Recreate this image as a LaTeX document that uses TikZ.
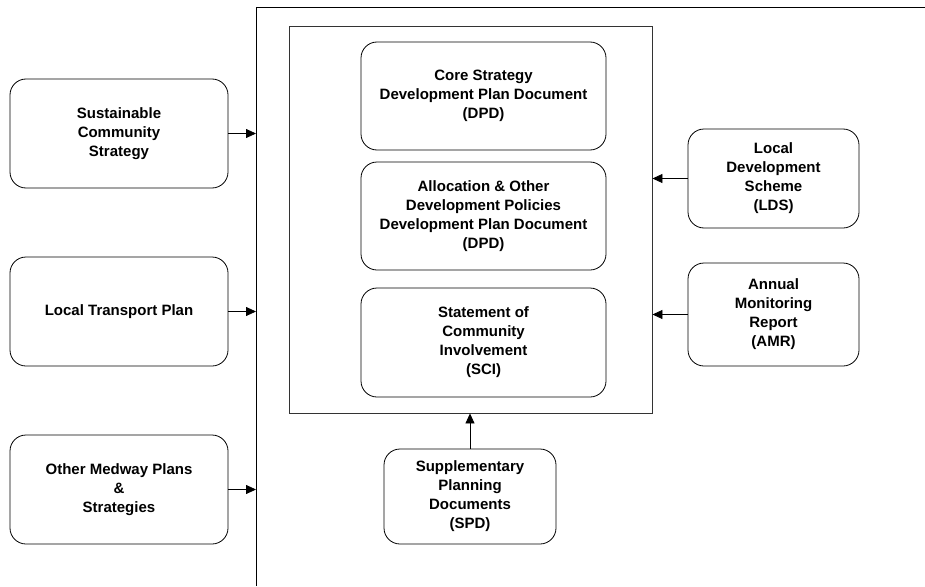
\documentclass[tikz,border=0pt]{standalone}
\usepackage{fontspec}
\setmainfont{Liberation Sans}
\usepackage{tikz}
\usetikzlibrary{arrows.meta}

\begin{document}
\begin{tikzpicture}[x=1pt, y=-1pt]
\tikzset{doc/.style={draw, rounded corners=16pt, line width=0.8pt, align=center, inner sep=2pt,
  font=\bfseries\fontsize{15}{19}\selectfont}}
\tikzset{feed/.style={-{Triangle[length=10pt,width=9pt]}, line width=0.8pt}}

\useasboundingbox (0,0) rectangle (925,586);

% outer frame and the box round the DPDs
\coordinate (fl) at (256,0);
\draw[line width=0.9pt] (256,586) -- (256,7.5) -- (925,7.5);
\node[draw, line width=0.9pt, draw=black!80, minimum width=363pt, minimum height=387pt, inner sep=0pt] (inner) at (470.5,219.5) {};

\node[doc, minimum width=218pt, minimum height=109pt] (sus) at (119,133.5) {Sustainable\\Community\\Strategy};
\node[doc, minimum width=218pt, minimum height=109pt] (ltp) at (119,311.5) {Local Transport Plan};
\node[doc, minimum width=218pt, minimum height=109pt] (omp) at (119,489.5) {Other Medway Plans\\\&\\Strategies};

\node[doc, minimum width=245pt, minimum height=108pt] (core) at (483.5,96) {Core Strategy\\Development Plan Document\\(DPD)};
\node[doc, minimum width=245pt, minimum height=108pt] (alloc) at (483.5,216) {Allocation \& Other\\Development Policies\\Development Plan Document\\(DPD)};
\node[doc, minimum width=245pt, minimum height=109pt] (sci) at (483.5,342.5) {Statement of\\Community\\Involvement\\(SCI)};

\node[doc, minimum width=171pt, minimum height=99pt] (lds) at (773.5,178.5) {Local\\Development\\Scheme\\(LDS)};
\node[doc, minimum width=171pt, minimum height=103pt] (amr) at (773.5,314.5) {Annual\\Monitoring\\Report\\(AMR)};
\node[doc, minimum width=172pt, minimum height=95pt] (spd) at (470,496.5) {Supplementary\\Planning\\Documents\\(SPD)};

\draw[feed] (sus.east) -- (sus -| fl);
\draw[feed] (ltp.east) -- (ltp -| fl);
\draw[feed] (omp.east) -- (omp -| fl);
\draw[feed] (lds.west) -- (lds -| inner.east);
\draw[feed] (amr.west) -- (amr -| inner.east);
\draw[feed] (spd.north) -- (spd |- inner.south);

\end{tikzpicture}
\end{document}
